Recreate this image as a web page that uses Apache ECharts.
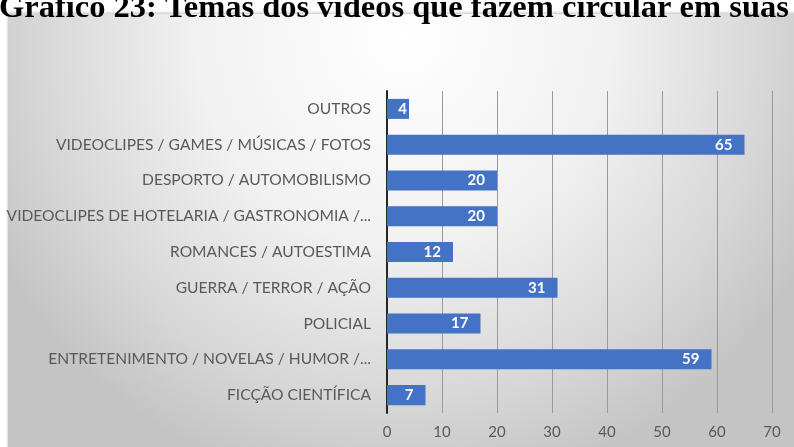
<!DOCTYPE html>
<html>
<head>
<meta charset="utf-8">
<script src="https://cdn.jsdelivr.net/npm/echarts@6/dist/echarts.min.js"></script>
<style>
  html, body { margin: 0; padding: 0; background: #ffffff; }
  #chart { width: 794px; height: 447px; }
</style>
</head>
<body>
<div id="chart"></div>
<script>
// Video themes and how many respondents share each kind
const titleText = 'Gráfico 23: Temas dos vídeos que fazem circular em suas';
const categories = [
  'OUTROS',
  'VIDEOCLIPES / GAMES / MÚSICAS / FOTOS',
  'DESPORTO / AUTOMOBILISMO',
  'VIDEOCLIPES DE HOTELARIA / GASTRONOMIA /...',
  'ROMANCES / AUTOESTIMA',
  'GUERRA / TERROR / AÇÃO',
  'POLICIAL',
  'ENTRETENIMENTO / NOVELAS / HUMOR /...',
  'FICÇÃO CIENTÍFICA'
];
const values = [4, 65, 20, 20, 12, 31, 17, 59, 7];
const axisMin = 0;
const axisMax = 70;
const axisStep = 10;

const labelFont = 'Lato, "Open Sans", sans-serif';
const chart = echarts.init(document.getElementById('chart'), null, { renderer: 'canvas' });

chart.setOption({
  animation: false,
  graphic: [
    {
      type: 'rect',
      z: -10,
      shape: { x: 8, y: 14, width: 790, height: 440 },
      style: {
        fill: {
          type: 'radial', x: 0.5, y: 0.05, r: 1.05,
          colorStops: [
            { offset: 0, color: '#ffffff' },
            { offset: 0.45, color: '#f1f1f1' },
            { offset: 0.8, color: '#d6d6d6' },
            { offset: 1, color: '#c4c4c4' }
          ]
        },
        shadowColor: 'rgba(0,0,0,0.25)',
        shadowBlur: 3,
        shadowOffsetY: -1
      }
    },
    {
      type: 'text',
      left: -1,
      top: -8,
      style: {
        text: titleText,
        font: 'bold 32.5px "Liberation Serif", "Times New Roman", serif',
        fill: '#000000'
      }
    }
  ],
  grid: { left: 387, right: 22, top: 91, bottom: 34, containLabel: false },
  xAxis: {
    type: 'value',
    min: axisMin,
    max: axisMax,
    interval: axisStep,
    axisLine: { show: false },
    axisTick: { show: false },
    splitLine: { show: true, lineStyle: { color: '#9a9a9a', width: 1 } },
    axisLabel: { color: '#595959', fontSize: 15, fontFamily: labelFont, margin: 12 }
  },
  yAxis: {
    type: 'category',
    data: categories,
    inverse: true,
    axisLine: { show: true, lineStyle: { color: '#262626', width: 2 } },
    axisTick: { show: false },
    axisLabel: { color: '#595959', fontSize: 15.6, fontFamily: labelFont, margin: 16 }
  },
  series: [{
    type: 'bar',
    data: values.map(v => v < 5 ? { value: v, label: { distance: 2 } } : v),
    barCategoryGap: '44%',
    itemStyle: { color: '#4472c4' },
    label: {
      show: true,
      position: 'insideRight',
      distance: 12,
      color: '#ffffff',
      fontWeight: 'bold',
      fontSize: 15,
      fontFamily: labelFont
    }
  }]
});
</script>
</body>
</html>
